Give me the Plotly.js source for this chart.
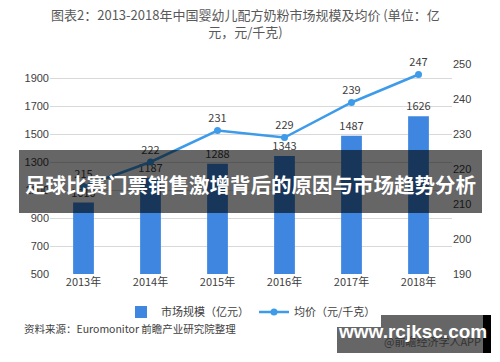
<!DOCTYPE html>
<html><head><meta charset="utf-8">
<script src="https://cdn.plot.ly/plotly-3.0.1.min.js"></script>
<style>html,body{margin:0;padding:0;background:#fff;}#c{width:500px;height:362px;}</style>
</head><body><div id="c"></div>
<script>
const years = ["2013年","2014年","2015年","2016年","2017年","2018年"];
const marketSize = [1010, 1187, 1288, 1343, 1487, 1626];
const avgPrice = [215, 222, 231, 229, 239, 247];
const leftTicks = [500, 700, 900, 1100, 1300, 1500, 1700, 1900];
const barName = "市场规模（亿元）";
const lineName = "均价（元/千克）";
const titleText = "图表2：2013-2018年中国婴幼儿配方奶粉市场规模及均价 (单位：亿<br>元，元/千克)";
const bannerText = "足球比赛门票销售激增背后的原因与市场趋势分析";
const sourceText = "资料来源：Euromonitor 前瞻产业研究院整理";
const siteText = "www.rcjksc.com";
const appText = "@前瞻经济学人APP";

const L = 50, R = 452, T = 64, B = 274;
const px = x => (x - L) / (R - L);
const py = y => (B - y) / (B - T);
const cjk = '"Noto Sans CJK SC", "Liberation Sans", sans-serif';

const traces = [
  {type:'bar', x: years, y: marketSize, name: barName, marker:{color:'#3e86e0'}, width:0.31,
   text: marketSize.map(String), textposition:'outside', cliponaxis:false, constraintext:'none',
   textfont:{size:11, color:'#404040', family:cjk}, hoverinfo:'none'},
  {type:'scatter', mode:'lines+markers+text', x: years, y: avgPrice, yaxis:'y2', name: lineName,
   line:{color:'#3d9be9', width:2.5}, marker:{color:'#3d9be9', size:7},
   text: avgPrice.map(String), textposition:'top center', cliponaxis:false,
   textfont:{size:11, color:'#404040', family:cjk}, hoverinfo:'none'}
];

const layout = {
  width:500, height:362,
  margin:{l:L, r:500-R, t:T, b:362-B},
  paper_bgcolor:'#fff', plot_bgcolor:'#fff',
  font:{family:cjk, size:11, color:'#404040'},
  showlegend:true,
  legend:{orientation:'h', x:0.5, xanchor:'center', y:py(312), yanchor:'middle',
          font:{size:11, color:'#404040', family:cjk}, itemwidth:30, tracegroupgap:0},
  xaxis:{type:'category', showgrid:false, zeroline:false, showline:false, ticks:'',
         tickfont:{size:11, color:'#404040'}},
  yaxis:{range:[500,2000], tickvals:leftTicks, showgrid:true, gridcolor:'#d9d9d9', gridwidth:1,
         zeroline:false, showline:false, ticks:'', tickfont:{size:11, color:'#404040', family:'"Liberation Sans", sans-serif'}},
  yaxis2:{overlaying:'y', side:'right', range:[190,250], dtick:10, showgrid:false, zeroline:false,
          showline:false, ticks:'', tickfont:{size:11, color:'#404040', family:'"Liberation Sans", sans-serif'}},
  bargap:0.69,
  shapes:[
    {type:'rect', xref:'paper', yref:'paper', x0:px(19), x1:px(482), y0:py(213), y1:py(150),
     fillcolor:'rgba(0,0,0,0.6)', line:{width:0}, layer:'above'},
    {type:'rect', xref:'paper', yref:'paper', x0:px(337), x1:px(483), y0:py(353), y1:py(315),
     fillcolor:'rgba(0,0,0,0.6)', line:{width:0}, layer:'above'},
    {type:'rect', xref:'paper', yref:'paper', x0:px(483), x1:px(491), y0:py(353), y1:py(315),
     fillcolor:'#000', line:{width:0}, layer:'above'}
  ],
  annotations:[
    {text:titleText, xref:'paper', yref:'paper', x:px(245), y:py(23), xanchor:'center', yanchor:'middle',
     showarrow:false, font:{size:13, color:'#595959', family:cjk}, align:'center'},
    {text:'<b>'+bannerText+'</b>', xref:'paper', yref:'paper', x:px(250), y:py(184), xanchor:'center', yanchor:'middle',
     showarrow:false, font:{size:20.5, color:'#ffffff', family:cjk}},
    {text:sourceText, xref:'paper', yref:'paper', x:px(22), y:py(328), xanchor:'left', yanchor:'middle',
     showarrow:false, font:{size:10.5, color:'#404040', family:cjk}},
    {text:appText, xref:'paper', yref:'paper', x:px(483), y:py(341), xanchor:'right', yanchor:'middle',
     showarrow:false, font:{size:11, color:'#333333', family:cjk}},
    {text:'<b>'+siteText+'</b>', xref:'paper', yref:'paper', x:px(412), y:py(331), xanchor:'center', yanchor:'middle',
     showarrow:false, font:{size:19, color:'#ffffff', family:'"Liberation Sans", "DejaVu Sans", sans-serif'}}
  ]
};
Plotly.newPlot('c', traces, layout, {displayModeBar:false, staticPlot:true});
</script></body></html>
